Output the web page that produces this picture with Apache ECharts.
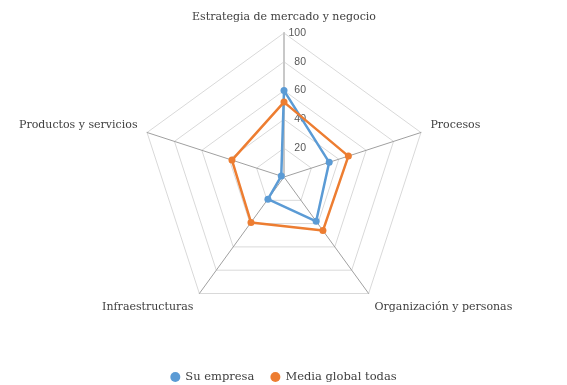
<!DOCTYPE html>
<html><head><meta charset="utf-8">
<script src="https://cdn.jsdelivr.net/npm/echarts@6/dist/echarts.min.js"></script>
<style>html,body{margin:0;padding:0;background:#fff}#c{width:567px;height:385px}</style>
</head><body><div id="c"></div>
<script>
// Clockwise order starting at the top
const indicators = ['Estrategia de mercado y negocio','Procesos','Organización y personas','Infraestructuras','Productos y servicios'];
const seriesNames = ['Su empresa','Media global todas'];
const suEmpresa = [60, 33, 38, 19, 2];
const mediaGlobal = [52, 47, 46, 39, 38];
const radialTicks = [0, 20, 40, 60, 80, 100];

// ECharts radar goes counter-clockwise; reorder so the picture runs clockwise
const order = [0, 4, 3, 2, 1];
const reorder = arr => order.map(i => arr[i]);
const sideNames = ['Procesos', 'Productos y servicios'];
const bottomNames = ['Organización y personas', 'Infraestructuras'];

const chart = echarts.init(document.getElementById('c'));
const serif = 'DejaVu Serif';
chart.setOption({
  animation: false,
  color: ['#5B9BD5', '#ED7D31'],
  legend: {
    top: 366, left: 'center',
    data: seriesNames,
    icon: 'circle', itemWidth: 10, itemHeight: 10, itemGap: 16,
    textStyle: {fontFamily: serif, fontSize: 11.5, color: '#404040'}
  },
  radar: {
    center: [284, 177], radius: 144, startAngle: 90, splitNumber: 5, shape: 'polygon',
    indicator: reorder(indicators).map(n => ({name: n, min: 0, max: 100})),
    axisName: {
      color: '#404040', fontFamily: serif, fontSize: 11,
      formatter: n => sideNames.includes(n) ? '{s|' + n + '}' : bottomNames.includes(n) ? '{d|' + n + '}' : n,
      rich: {
        s: {fontFamily: serif, fontSize: 11, color: '#404040', padding: [0, 0, 8, 0]},
        d: {fontFamily: serif, fontSize: 11, color: '#404040', padding: [12, 0, 0, 0]}
      }
    },
    nameGap: 10,
    splitArea: {show: false},
    splitLine: {lineStyle: {color: '#D9D9D9', width: 1}},
    axisLine: {lineStyle: {color: '#A0A0A0', width: 1}}
  },
  polar: {center: [284, 177], radius: 144},
  angleAxis: {show: false, startAngle: 90, min: 0, max: 360},
  radiusAxis: {
    z: 1,
    min: radialTicks[0], max: radialTicks[radialTicks.length - 1], interval: 20,
    axisLine: {show: true, lineStyle: {color: '#C8C8C8', width: 2}}, axisTick: {show: false}, splitLine: {show: false},
    axisLabel: {show: true, color: '#595959', fontFamily: 'Liberation Sans', fontSize: 10.5,
      formatter: v => v === 0 ? '' : String(v), margin: -22, padding: [0, 0, 4, 0]}
  },
  series: [
    {name: seriesNames[0], type: 'radar', symbol: 'circle', symbolSize: 7, z: 3,
     lineStyle: {width: 2.5}, data: [{value: reorder(suEmpresa), name: seriesNames[0]}]},
    {name: seriesNames[1], type: 'radar', symbol: 'circle', symbolSize: 7, z: 3,
     lineStyle: {width: 2.5}, data: [{value: reorder(mediaGlobal), name: seriesNames[1]}]}
  ]
});
</script></body></html>
